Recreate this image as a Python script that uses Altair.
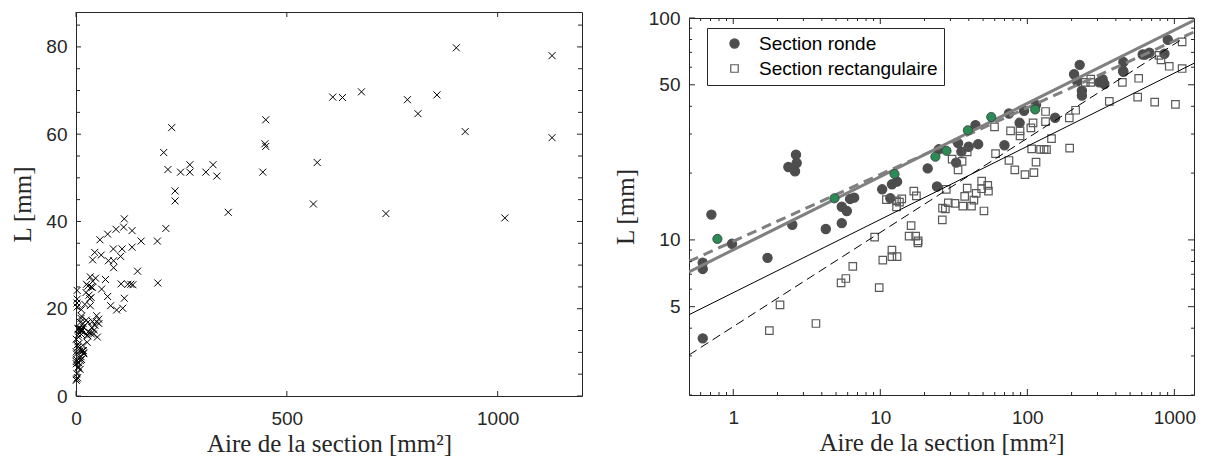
import altair as alt
import pandas as pd

# ---------------- data ----------------
ronde_aire = [0.71, 0.62, 0.62, 0.98, 0.62, 1.71, 2.52, 4.26, 5.47, 5.92, 5.47, 6.23, 6.64,
              10.3, 11.7, 12.0, 13.0, 24.3, 2.67, 2.37, 2.70, 2.63, 21.0, 25.0, 32.8, 33.8,
              35.6, 39.9, 46.3, 44.4, 69.9, 75.0, 95.0, 114.6, 88.6, 154.5, 227, 208, 218,
              235, 235, 308, 325, 334, 450, 450, 448, 609, 632, 677, 856, 902]
ronde_L = [13.0, 7.9, 7.4, 9.6, 3.6, 8.3, 11.7, 11.2, 14.1, 13.5, 11.9, 15.3, 15.5,
           16.9, 15.4, 17.8, 18.3, 17.4, 24.2, 21.3, 22.2, 20.4, 21.0, 25.6, 22.3, 27.3,
           25.0, 26.3, 27.0, 32.9, 26.7, 37.1, 38.2, 40.6, 33.7, 35.5, 61.5, 55.8, 51.9,
           47.0, 44.7, 51.3, 53.0, 50.4, 63.3, 57.2, 57.8, 68.5, 68.4, 69.7, 69.0, 79.8]

vert_aire = [0.78, 4.88, 12.5, 23.7, 28.2, 39.4, 56.8, 113]
vert_L = [10.1, 15.4, 19.8, 23.7, 25.2, 31.2, 35.8, 38.7]

rect_aire = [2.08, 1.76, 3.65, 5.41, 5.83, 6.5, 9.83, 9.15, 10.4, 12.0, 12.0, 13.0, 11.0,
             12.9, 14.0, 12.9, 13.5, 16.9, 17.6, 16.2, 15.7, 17.4, 18.1, 18.0, 26.4, 26.5,
             27.7, 29.0, 32.2, 28.1, 30.8, 36.0, 33.8, 39.0, 37.5, 43.3, 41.7, 36.4, 44.9,
             48.9, 48.9, 53.8, 54.4, 50.7, 60.8, 59.8, 39.0, 75.0, 82.2, 96.4, 110.8, 114.6,
             107, 123, 130, 135, 146, 194, 76.9, 89.2, 89.2, 105.7, 109.4, 133, 133, 193,
             213, 270, 270, 361, 443, 572, 563, 735, 1017, 811, 923, 1129, 1129, 248, 786]
rect_L = [5.1, 3.9, 4.2, 6.4, 6.7, 7.6, 6.1, 10.3, 8.1, 9.0, 8.4, 8.4, 15.2,
          15.0, 15.3, 14.1, 14.8, 16.6, 15.8, 11.6, 10.4, 10.4, 9.9, 9.7, 12.3, 13.9,
          13.8, 14.7, 14.6, 16.9, 23.1, 22.6, 20.7, 17.1, 15.7, 15.1, 14.2, 14.2, 16.2,
          18.4, 17.0, 17.6, 16.6, 13.5, 24.5, 32.3, 24.9, 22.8, 20.7, 19.7, 20.1, 22.4,
          25.7, 25.6, 25.6, 25.5, 28.6, 25.9, 31.0, 31.0, 29.4, 32.0, 33.7, 37.9, 34.1, 35.5,
          38.4, 53.0, 51.3, 42.1, 51.3, 53.5, 44.0, 41.8, 40.8, 64.7, 60.6, 78.0, 59.2, 51.3, 67.9]

# fitted lines (end points at the axis limits)
line_aire = [0.5, 1360]
fit_ronde_plein = [7.18, 97.5]
fit_ronde_tirets = [8.0, 86.5]
fit_rect_plein = [4.6, 62.5]
fit_rect_tirets = [3.03, 86.9]

# tick values
left_x_major = [0, 500, 1000]
left_y_major = [0, 20, 40, 60, 80]
left_y_minor = [5, 10, 15, 25, 30, 35, 45, 50, 55, 65, 70, 75, 85]
right_x_major = [1, 10, 100, 1000]
right_x_minor = [0.6, 0.7, 0.8, 0.9, 2, 3, 4, 5, 6, 7, 8, 9, 20, 30, 40, 50, 60, 70, 80, 90,
                 200, 300, 400, 500, 600, 700, 800, 900]
right_y_major = [5, 10, 50, 100]
right_y_minor = [2, 3, 4, 6, 7, 8, 9, 20, 30, 40, 60, 70, 80, 90]

SANS = "Liberation Sans"
SERIF = "Liberation Serif"
AXC = "#262626"
XTITLE = "Aire de la section [mm²]"
YTITLE = "L [mm]"

LW, LH = 506, 384
RW, RH = 505, 377

# ---------------- scales & axes ----------------
xl = alt.Scale(domain=[0, 1200], nice=False, zero=False)
yl = alt.Scale(domain=[0, 88], nice=False, zero=False)
xr = alt.Scale(type="log", domain=[0.5, 1360], nice=False)
yr = alt.Scale(type="log", domain=[2, 100], nice=False)

ax_xl = alt.Axis(values=left_x_major, format="d", title=XTITLE, labelFlush=False)
ax_yl = alt.Axis(values=left_y_major, format="d", title=YTITLE)
ax_xr = alt.Axis(values=right_x_major, format="d", title=XTITLE, labelFlush=False)
ax_yr = alt.Axis(values=right_y_major, format="d", title=YTITLE)


def x_ticks(vals, scale, axis, length, H):
    d = pd.DataFrame({"v": vals})
    base = alt.Chart(d).mark_rule(color=AXC, strokeWidth=1)
    enc = alt.X("v:Q", scale=scale, axis=axis)
    return [base.encode(x=enc, y=alt.value(H), y2=alt.value(H - length)),
            base.encode(x=enc, y=alt.value(0), y2=alt.value(length))]


def y_ticks(vals, scale, axis, length, W):
    d = pd.DataFrame({"v": vals})
    base = alt.Chart(d).mark_rule(color=AXC, strokeWidth=1)
    enc = alt.Y("v:Q", scale=scale, axis=axis)
    return [base.encode(y=enc, x=alt.value(0), x2=alt.value(length)),
            base.encode(y=enc, x=alt.value(W), x2=alt.value(W - length))]


# ---------------- left panel ----------------
df_all = pd.DataFrame({"A": ronde_aire + vert_aire + rect_aire,
                       "L": ronde_L + vert_L + rect_L})

left_pts = alt.Chart(df_all).mark_point(
    shape="M-1,-1L1,1M-1,1L1,-1", filled=False, color="black", stroke="black",
    strokeWidth=1, size=49, opacity=1
).encode(
    x=alt.X("A:Q", scale=xl, axis=ax_xl),
    y=alt.Y("L:Q", scale=yl, axis=ax_yl),
)

left = alt.layer(
    left_pts,
    *x_ticks(left_x_major, xl, ax_xl, 5, LH),
    *y_ticks(left_y_major, yl, ax_yl, 5, LW),
    *y_ticks(left_y_minor, yl, ax_yl, 4, LW),
).properties(width=LW, height=LH)

# ---------------- right panel ----------------
types = ["Section ronde", "Section rectangulaire"]
df_pts = pd.DataFrame({"A": ronde_aire + rect_aire,
                       "L": ronde_L + rect_L,
                       "type": [types[0]] * len(ronde_aire) + [types[1]] * len(rect_aire)})

leg = alt.Legend(title=None, orient="none", legendX=631, legendY=16, fillColor="white",
                 strokeColor=AXC, padding=6, labelFont=SANS, labelFontSize=19,
                 labelColor="black", labelLimit=400, symbolOffset=12, labelOffset=15,
                 rowPadding=5, symbolStrokeWidth=1.2)

pts = alt.Chart(df_pts).mark_point(opacity=1, strokeWidth=1.2).encode(
    x=alt.X("A:Q", scale=xr, axis=ax_xr),
    y=alt.Y("L:Q", scale=yr, axis=ax_yr),
    shape=alt.Shape("type:N", scale=alt.Scale(domain=types, range=["circle", "square"]), legend=leg),
    fill=alt.Fill("type:N", scale=alt.Scale(domain=types, range=["#4d4d4d", "transparent"]), legend=leg),
    stroke=alt.Stroke("type:N", scale=alt.Scale(domain=types, range=["#4d4d4d", "#5a5a5a"]), legend=leg),
    size=alt.Size("type:N", scale=alt.Scale(domain=types, range=[85, 56]), legend=leg),
)


def fit_line(yvals, color, width, dash=None):
    d = pd.DataFrame({"A": line_aire, "L": yvals})
    if dash:
        m = alt.Chart(d).mark_line(color=color, strokeWidth=width, strokeDash=dash, clip=True)
    else:
        m = alt.Chart(d).mark_line(color=color, strokeWidth=width, clip=True)
    return m.encode(x=alt.X("A:Q", scale=xr, axis=ax_xr), y=alt.Y("L:Q", scale=yr, axis=ax_yr))


green = alt.Chart(pd.DataFrame({"A": vert_aire, "L": vert_L})).mark_circle(
    size=85, fill="#2a8b55", stroke="#3a3a3a", strokeWidth=0.8, opacity=1
).encode(x=alt.X("A:Q", scale=xr, axis=ax_xr), y=alt.Y("L:Q", scale=yr, axis=ax_yr))

right = alt.layer(
    pts,
    fit_line(fit_rect_plein, "black", 1),
    fit_line(fit_rect_tirets, "black", 1, [9, 5]),
    fit_line(fit_ronde_tirets, "#808080", 3, [10, 6]),
    fit_line(fit_ronde_plein, "#808080", 3),
    green,
    *x_ticks(right_x_major, xr, ax_xr, 6, RH),
    *x_ticks(right_x_minor, xr, ax_xr, 3, RH),
    *y_ticks(right_y_major, yr, ax_yr, 6, RW),
    *y_ticks(right_y_minor, yr, ax_yr, 3, RW),
).properties(width=RW, height=RH)

# small invisible spacer so that the right panel sits a little lower, as in the reference
spacer = alt.Chart(pd.DataFrame({"a": [0]})).mark_point(opacity=0, size=0).encode(
    x=alt.value(0), y=alt.value(0)
).properties(width=1, height=1, view=alt.ViewBackground(stroke="transparent", strokeWidth=0))

right_col = alt.vconcat(spacer, right, spacing=-5)

chart = alt.hconcat(left, right_col, spacing=29).properties(
    padding={"left": 2, "top": 0, "right": 0, "bottom": 0}
).configure_view(
    stroke=AXC, strokeWidth=1
).configure_axis(
    grid=False, domain=False, ticks=False, tickSize=0,
    labelFont=SANS, labelFontSize=19, labelColor=AXC,
    titleFont=SERIF, titleFontSize=25, titleFontWeight="normal", titleColor=AXC,
).configure_axisX(
    labelPadding=13, titlePadding=3
).configure_axisY(
    labelPadding=9, titlePadding=10
)

chart.save("out.html", embed_options={"renderer": "svg", "actions": False})
